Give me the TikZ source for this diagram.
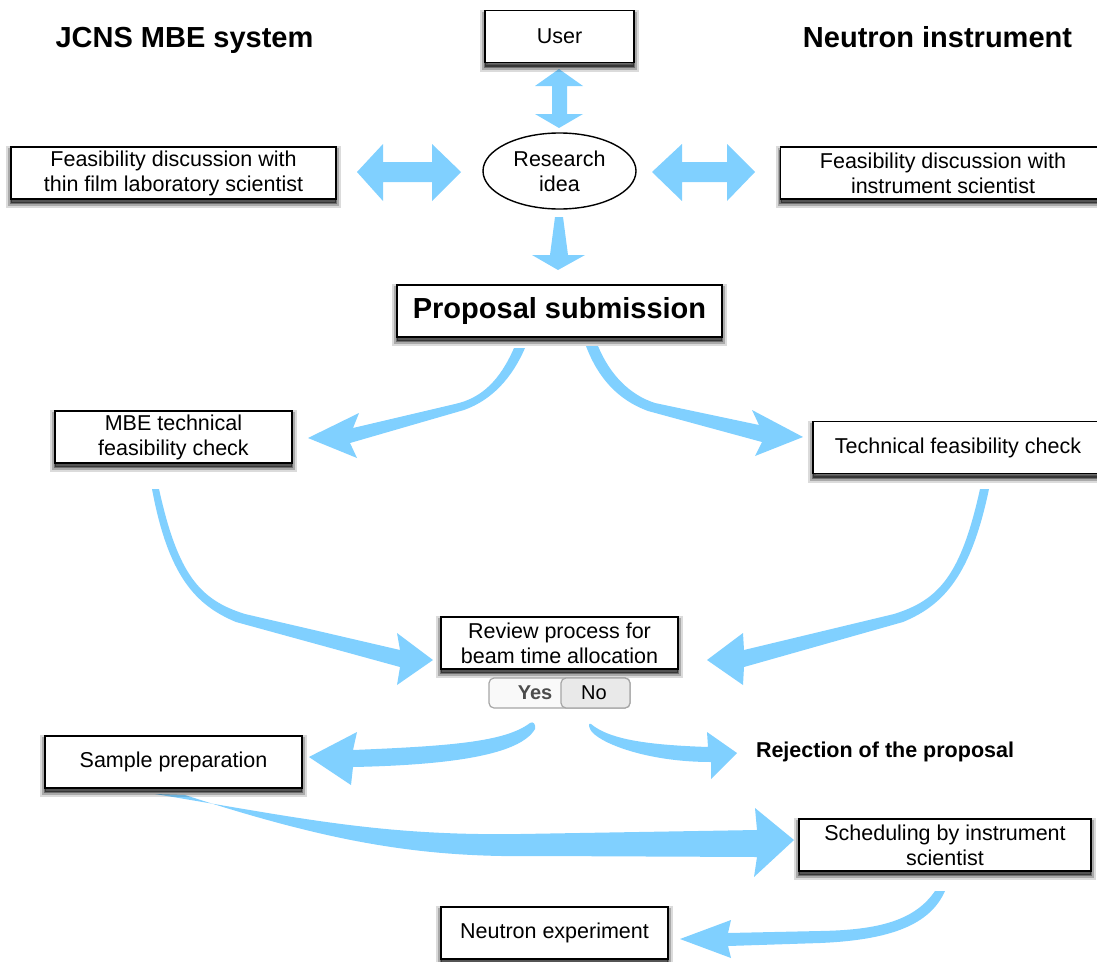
\documentclass[tikz,border=0pt]{standalone}
\usepackage{fontspec}
\setmainfont{Liberation Sans}
\usetikzlibrary{shapes.geometric}
\definecolor{arrowblue}{RGB}{128,208,255}
\begin{document}
\begin{tikzpicture}[x=1pt,y=-1pt,
  box/.style={draw, line width=1.6pt, fill=white, align=center, inner sep=1pt,
    font=\fontsize{21.5}{25}\selectfont, minimum height=52pt,
    preaction={draw=black, draw opacity=0.14, line width=10pt, transform canvas={yshift=-4pt}},
    preaction={draw=black, draw opacity=0.22, line width=6pt, transform canvas={yshift=-4pt}},
    preaction={draw=black, draw opacity=0.35, line width=2.5pt, fill=black, fill opacity=0.5, transform canvas={yshift=-4pt}}},
  fat/.style={fill=arrowblue, draw=none},
  title/.style={font=\fontsize{29}{34}\selectfont\bfseries, anchor=base},
  togglebox/.style={draw=gray!70, line width=1.2pt, rounded corners=5pt, minimum height=30pt, inner sep=0pt},
]
\useasboundingbox[fill=white] (0,0) rectangle (1097,961);

% ---------- fat arrows ----------
% User <-> Research idea
\fill[fat] (559,69) -- (583,86) -- (567,86) -- (567,114) -- (583,114) -- (559,128)
  -- (535,114) -- (552,114) -- (552,86) -- (535,86) -- cycle;
% left feasibility <-> idea
\fill[fat] (357,172) -- (383,144) -- (383,162) -- (432,162) -- (432,144) -- (461,172)
  -- (432,201) -- (432,182) -- (383,182) -- (383,201) -- cycle;
% idea <-> right feasibility
\fill[fat] (652,172) -- (682,144) -- (682,162) -- (727,162) -- (727,144) -- (755,172)
  -- (727,201) -- (727,182) -- (682,182) -- (682,201) -- cycle;
% idea -> proposal
\fill[fat] (555,217) -- (563,217) -- (568,255) -- (585,255) -- (558,270) -- (532,255)
  -- (550,255) -- cycle;
% proposal -> MBE check
\fill[fat] (514,348) .. controls (500,380) and (482,398) .. (455,404) -- (353,428)
  -- (359,413) -- (308,438) -- (357,458) -- (350,443) -- (464,410)
  .. controls (492,400) and (512,378) .. (525,348) -- cycle;
% proposal -> technical check
\fill[fat] (598,346) .. controls (610,375) and (630,395) .. (655,403) -- (759,425)
  -- (752,410) -- (803,437) -- (755,456) -- (762,442) -- (648,411)
  .. controls (618,400) and (598,378) .. (586,346) -- cycle;
% MBE check -> review
\fill[fat] (159,489) .. controls (178,575) and (200,600) .. (245,614) -- (400,650) -- (397,633)
  -- (433,660) -- (397,685) -- (400,667) -- (236,622) .. controls (195,605) and (168,575) .. (152,489) -- cycle;
% technical check -> review
\fill[fat] (980,489) .. controls (961,575) and (939,600) .. (894,614) -- (744,650) -- (743,633)
  -- (707,660) -- (743,685) -- (744,667) -- (903,622) .. controls (944,605) and (971,575) .. (989,489) -- cycle;
% Yes -> sample preparation
\fill[fat] (530,723) .. controls (505,742) and (450,746) .. (353,750) -- (357,732)
  -- (309,757) -- (351,785) -- (353,767) .. controls (450,765) and (520,755) .. (535,729)
  .. controls (536,724) and (533,721) .. (530,723) -- cycle;
% No -> rejection
\fill[fat] (591,724) .. controls (610,740) and (650,745) .. (708,747) -- (707,732)
  -- (737,753) -- (711,779) -- (711,762) .. controls (650,762) and (605,745) .. (593,733)
  .. controls (588,728) and (588,722) .. (591,724) -- cycle;
% sample preparation -> scheduling
\fill[fat] (155,794) .. controls (300,818) and (380,836) .. (520,834) -- (757,830)
  -- (755,808) -- (794,840) -- (754,877) -- (757,857) -- (540,856)
  .. controls (420,858) and (330,842) .. (185,795) -- cycle;
% scheduling -> neutron experiment
\fill[fat] (935,891) .. controls (915,920) and (880,930) .. (820,931) -- (728,933)
  -- (731,920) -- (680,939) -- (731,958) -- (728,946) -- (820,943)
  .. controls (890,940) and (930,925) .. (945,891) -- cycle;

% ---------- titles ----------
\node[title] (tl) at (184.5,47) {JCNS MBE system};
\node[title] (tr) at (937.5,47) {Neutron instrument};

% ---------- boxes ----------
\node[box, minimum width=149pt] (user) at (559.5,36.5) {User};
\node[draw, ellipse, line width=1.4pt, minimum width=153pt, minimum height=76pt, inner sep=0pt,
  align=center, font=\fontsize{21.5}{25}\selectfont] (idea) at (559.5,171) {Research\\idea};
\node[box, minimum width=325pt] (feasL) at (173.5,173) {Feasibility discussion with\\thin film laboratory scientist};
\node[box, minimum width=325pt] (feasR) at (943,173) {Feasibility discussion with\\instrument scientist};
\node[box, minimum width=325pt, font=\fontsize{29}{34}\selectfont\bfseries] (prop) at (559.5,311) {Proposal submission};
\node[box, minimum width=237pt] (mbe) at (173.5,437) {MBE technical\\feasibility check};
\node[box, minimum width=290pt] (tech) at (958,447.5) {Technical feasibility check};
\node[box, minimum width=237pt] (review) at (559.5,643) {Review process for\\beam time allocation};
\node[box, minimum width=257pt] (sample) at (173.5,762) {Sample preparation};
\node[font=\fontsize{21.5}{25}\selectfont\bfseries] (reject) at (885,752) {Rejection of the proposal};
\node[box, minimum width=292pt] (sched) at (945,845) {Scheduling by instrument\\scientist};
\node[box, minimum width=227pt] (neutron) at (554.5,933) {Neutron experiment};

% ---------- Yes / No toggle ----------
\node[togglebox, minimum width=141pt, fill=gray!5] (toggle) at (559.5,693) {};
\node[togglebox, minimum width=69pt, fill=gray!17] (nopart) at (595.5,693) {};
\node[font=\fontsize{20}{24}\selectfont\bfseries, text=black!70, anchor=base] (yes) at (535,699) {Yes};
\node[font=\fontsize{20}{24}\selectfont, anchor=base] (no) at (594,699) {No};
\end{tikzpicture}
\end{document}
